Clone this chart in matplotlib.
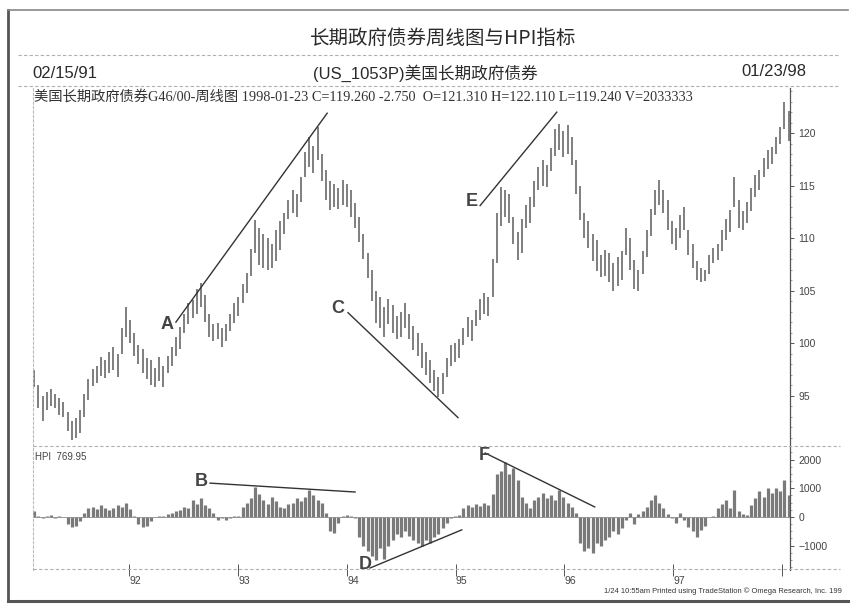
import pandas as pd
import matplotlib.pyplot as plt
from matplotlib.lines import Line2D
from matplotlib.ticker import FixedLocator, MultipleLocator

plt.rcParams['font.family'] = ['Liberation Sans', 'Noto Sans CJK SC']

# two-week bars, 02/15/91 .. 01/23/98
dates = pd.date_range('1991-02-15', '1998-01-23', freq='14D')

highs = [
    97.4, 96.0, 95.0, 95.3, 95.6, 95.2, 94.8, 94.4, 93.4, 92.6, 92.9, 93.6, 95.2, 96.6, 97.5, 97.8,
    98.7, 98.4, 99.2, 99.6, 99.0, 101.4, 103.4,
    102.2, 101.0, 99.8, 99.4, 98.6, 98.4, 97.6, 98.7, 97.8, 98.8, 99.6, 100.6, 101.5, 102.8, 103.8,
    104.1, 105.2, 105.7, 104.6, 102.8, 101.8, 101.9, 101.4, 101.8, 102.8, 103.8, 104.4,
    105.6, 106.7, 109.0, 111.7, 111.0, 110.4, 110.0, 109.4, 110.8, 111.6, 112.4, 113.6, 114.6, 114.2,
    115.8, 118.2, 119.6, 118.8, 120.6, 118.0, 116.5, 115.4, 115.2, 114.8, 115.5, 115.2, 114.6,
    113.3, 112.0, 110.4, 108.6, 107.0, 105.0, 104.4, 103.4, 104.2, 103.6, 102.6, 103.0, 103.8, 102.8,
    101.6, 101.0, 100.0, 99.2, 98.4, 97.4, 96.8, 97.2, 98.6, 99.8, 100.0, 100.4,
    101.4, 102.5, 102.2, 103.2, 104.2, 104.8, 104.4, 108.0, 112.4, 114.9, 114.6, 114.2, 112.0, 110.6,
    111.8, 113.2, 113.9, 115.4, 116.8, 117.4, 117.0, 118.6, 120.4, 120.9, 120.2, 120.8,
    119.6, 117.4, 115.0, 112.4, 111.6, 110.4, 109.8, 108.4, 108.9, 108.6, 107.6, 108.2, 108.8, 111.0,
    110.0, 107.9, 107.0, 108.8, 110.8, 112.8, 114.6, 115.5, 114.6, 113.6,
    111.6, 111.0, 112.2, 113.0, 110.8, 109.4, 107.8, 107.2, 107.0, 108.4, 109.1, 109.4, 110.8, 111.8,
    112.7, 115.8, 113.6, 112.6, 113.4, 114.8, 116.0, 116.5, 117.6, 118.4, 118.7, 119.6, 120.6,
    123.0, 122.1,
]
lows = [
    95.8, 93.8, 92.6, 93.6, 94.0, 93.8, 93.2, 93.0, 91.6, 90.8, 91.0, 91.4, 93.0, 94.6, 95.9, 96.2,
    96.9, 96.7, 97.2, 97.4, 96.8, 99.0, 100.6,
    100.0, 98.8, 98.0, 97.2, 96.6, 96.0, 95.8, 96.4, 95.8, 97.2, 97.8, 98.8, 99.4, 101.0, 101.8,
    102.4, 102.8, 103.4, 102.0, 100.6, 100.2, 100.4, 99.6, 100.2, 101.2, 101.9, 102.6,
    103.8, 104.8, 106.4, 108.6, 107.4, 107.2, 107.0, 107.2, 107.8, 108.9, 110.4, 111.8, 112.4, 112.0,
    113.4, 115.8, 116.8, 116.2, 117.4, 115.4, 113.6, 112.7, 113.0, 112.8, 113.2, 113.0, 112.0,
    111.0, 109.6, 108.0, 106.2, 104.0, 101.9, 101.4, 100.6, 101.8, 101.0, 100.4, 100.6, 101.4, 100.4,
    99.3, 98.8, 97.6, 97.0, 96.2, 95.4, 94.9, 95.2, 96.8, 97.8, 98.2, 98.6,
    99.8, 100.6, 100.2, 101.6, 102.2, 102.8, 102.6, 104.4, 107.6, 111.2, 112.0, 111.4, 109.4, 107.9,
    108.6, 111.0, 111.4, 113.0, 114.6, 115.0, 114.9, 116.4, 117.8, 118.4, 117.7, 118.0,
    117.0, 114.2, 111.7, 110.0, 109.1, 107.8, 106.9, 106.3, 106.4, 105.8, 105.0, 105.4, 106.0, 108.4,
    107.0, 105.2, 105.0, 106.6, 108.2, 110.2, 112.2, 113.2, 112.4, 110.8,
    109.4, 108.9, 110.0, 110.8, 108.4, 107.2, 106.0, 105.8, 105.9, 106.6, 107.6, 107.9, 108.8, 109.8,
    110.6, 113.0, 111.0, 110.8, 111.4, 112.6, 113.9, 114.6, 115.8, 116.6, 117.1, 118.0, 119.0,
    120.4, 119.24,
]
hpi = [
    200, 50, -30, 40, 60, -20, 30, 0, -250, -350, -300, -150, 150, 300, 350, 280,
    400, 320, 250, 300, 420, 350, 500,
    280, 50, -250, -350, -300, -150, 0, 20, 30, 100, 150, 200, 250, 350, 300,
    600, 450, 650, 400, 300, 150, -100, -50, -120, -40, 20, 50,
    350, 500, 650, 1050, 800, 600, 450, 700, 550, 350, 300, 450, 500, 650,
    550, 700, 950, 750, 600, 500, 150, -500, -550, -200, 50, 80, 30,
    -50, -700, -1000, -1200, -1350, -1500, -1100, -1450, -1000, -800, -600, -700, -500, -650,
    -800, -900, -1000, -800, -900, -700, -600, -400, -200, -50, 20, 60,
    300, 400, 350, 450, 380, 500, 420, 800, 1500, 1600, 1900, 1500, 1700, 1300,
    700, 500, 300, 600, 700, 850, 650, 750, 600, 950, 700, 500,
    350, 150, -900, -1200, -1100, -1250, -900, -1000, -800, -700, -500, -600, -400, -100,
    150, -250, 100, 200, 350, 600, 770, 500, 300, 100,
    -50, -200, 150, -100, -350, -500, -700, -450, -300, 0, 50, 300, 450, 600,
    300, 950, 200, 100, 80, 400, 650, 900, 700, 1000, 850, 1000, 900,
    1300, 770,
]

# hand-drawn trend lines: (bar index, value) pairs
price_lines = {
    'A': [(34.0, 102.0), (70.3, 121.9)],
    'C': [(75.3, 102.9), (101.7, 92.9)],
    'E': [(107.0, 113.1), (125.4, 122.0)],
}
hpi_lines = {
    'B': [(42.2, 1180), (77.0, 870)],
    'D': [(80.6, -1780), (102.6, -450)],
    'F': [(108.2, 2230), (134.5, 350)],
}
year_ticks = ['1992-01-01', '1993-01-01', '1994-01-01', '1995-01-01',
              '1996-01-01', '1997-01-01', '1998-01-01']
year_labels = ['92', '93', '94', '95', '96', '97', '']


def at(i):
    return dates[0] + pd.Timedelta(days=14 * i)


fig = plt.figure(figsize=(8.52, 6.08), dpi=100)
W, H = 852, 608
ink = '#2a2a2a'
bar_c = '#6a6a6a'

ax = fig.add_axes([33 / W, 1 - 446 / H, 757 / W, 358 / H])
ax2 = fig.add_axes([33 / W, 1 - 570 / H, 757 / W, 123 / H], sharex=ax)

ax.vlines(dates, lows, highs, color=bar_c, lw=1.2)
ax2.vlines(dates, 0, hpi, color='#7a7a7a', lw=2.3)
ax2.axhline(0, color='#8a8a8a', lw=0.6)

ax.set_xlim(dates[0] - pd.Timedelta(days=4), dates[-1] + pd.Timedelta(days=5))
ax.set_ylim(90.2, 124.3)
ax2.set_ylim(-1850, 2440)

for a in (ax, ax2):
    a.yaxis.tick_right()
    for s in ('top', 'bottom'):
        a.spines[s].set_visible(False)
    a.spines['left'].set_color('#bbbbbb')
    a.spines['left'].set_linestyle((0, (2, 2)))
    a.spines['left'].set_linewidth(0.8)
    a.spines['right'].set_color('#555555')
    a.spines['right'].set_linewidth(0.9)
    a.tick_params(axis='y', which='major', length=3, width=0.7, colors='#555555',
                  labelsize=7.5, labelcolor='#444444', pad=3)
    a.tick_params(axis='y', which='minor', length=1.5, width=0.5, colors='#777777')

ax.yaxis.set_major_locator(FixedLocator([95, 100, 105, 110, 115, 120]))
ax.yaxis.set_minor_locator(MultipleLocator(1))
ax2.yaxis.set_major_locator(FixedLocator([-1000, 0, 1000, 2000]))
ax2.yaxis.set_minor_locator(MultipleLocator(250))
ax.tick_params(axis='x', which='both', bottom=False, labelbottom=False)

tick_dates = pd.to_datetime(year_ticks)
ax2.set_xticks(tick_dates)
ax2.set_xticklabels(year_labels)
ax2.tick_params(axis='x', direction='inout', length=8, width=0.7, colors='#555555',
                labelsize=7.5, labelcolor='#444444', pad=0)
for lab in ax2.get_xticklabels():
    lab.set_horizontalalignment('left')

# trend lines and letters
for k, pts in price_lines.items():
    (i0, v0), (i1, v1) = pts
    ax.plot([at(i0), at(i1)], [v0, v1], color='#333333', lw=1.0, clip_on=False)
for k, pts in hpi_lines.items():
    (i0, v0), (i1, v1) = pts
    ax2.plot([at(i0), at(i1)], [v0, v1], color='#333333', lw=1.0, clip_on=False)

lt = dict(fontsize=13, fontweight='bold', color='#444444', ha='right', va='center')
ax.text(at(34.0 - 0.5), 101.8, 'A', **lt)
ax.text(at(75.3 - 0.8), 103.3, 'C', **lt)
ax.text(at(107.0 - 0.5), 113.5, 'E', **lt)
ax2.text(at(42.2 - 0.5), 1250, 'B', **lt)
ax2.text(at(80.6 + 0.3), -1650, 'D', **lt)
ax2.text(at(108.2 + 1.2), 2150, 'F', **lt)

ax2.text(0.003, 0.96, 'HPI  769.95', transform=ax2.transAxes, fontsize=7,
         color='#444444', va='top', ha='left')

# header texts
fig.text(443 / W, 1 - 38 / H, '长期政府债券周线图与HPI指标', ha='center', va='center',
         fontsize=14, color=ink, family=['Noto Sans CJK SC'])
fig.text(32 / W, 1 - 73 / H, '02/15/91', ha='left', va='center', fontsize=12, color=ink)
fig.text(425 / W, 1 - 73 / H, '(US_1053P)美国长期政府债券', ha='center', va='center',
         fontsize=12, color=ink)
fig.text(806 / W, 1 - 72 / H, '01/23/98', ha='right', va='center', fontsize=12, color=ink)
fig.text(34 / W, 1 - 97 / H,
         '美国长期政府债券G46/00-周线图 1998-01-23 C=119.260 -2.750  O=121.310 H=122.110 L=119.240 V=2033333',
         ha='left', va='center', fontsize=10.3, color='#333333',
         family=['Liberation Serif', 'Noto Sans CJK SC'])
fig.text(842 / W, 1 - 591 / H,
         '1/24 10:55am Printed using TradeStation © Omega Research, Inc. 199',
         ha='right', va='center', fontsize=5.4, color='#333333')

# frame and dashed separators
dash = dict(color='#b0b0b0', lw=0.8, ls=(0, (3, 2)))
for yy in (55, 86):
    fig.add_artist(Line2D([18 / W, 840 / W], [1 - yy / H, 1 - yy / H], **dash))
for yy in (446, 569):
    fig.add_artist(Line2D([33 / W, 840 / W], [1 - yy / H, 1 - yy / H], **dash))
fig.add_artist(Line2D([8 / W, 8 / W], [1 - 600 / H, 1 - 10 / H], color='#555555', lw=2.0))
fig.add_artist(Line2D([8 / W, 848 / W], [1 - 10 / H, 1 - 10 / H], color='#888888', lw=1.2))
fig.add_artist(Line2D([8 / W, 848 / W], [1 - 601 / H, 1 - 601 / H], color='#555555', lw=2.2))

fig.savefig('out.png', dpi=100, facecolor='white')
